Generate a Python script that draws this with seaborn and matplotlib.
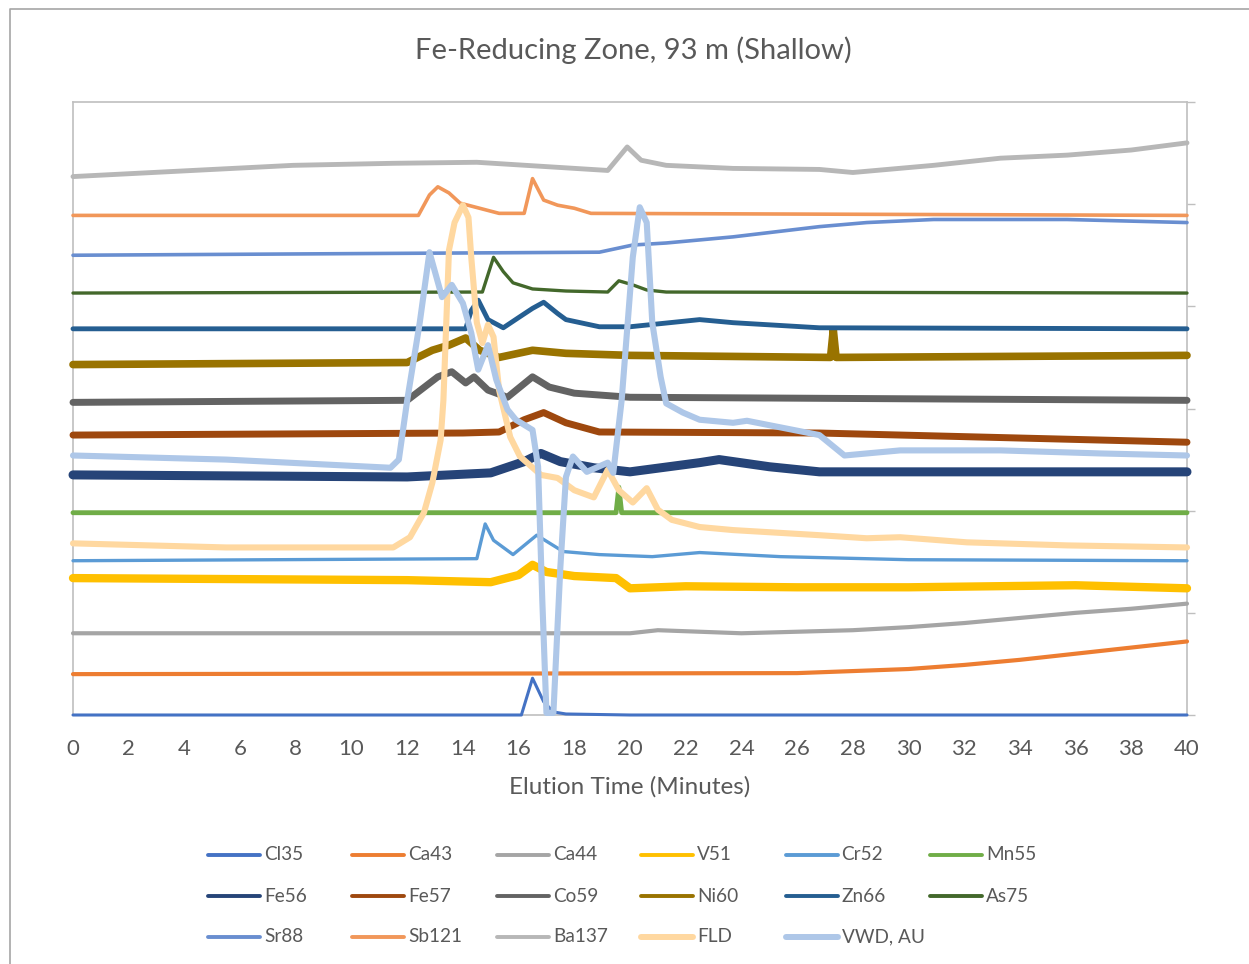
import matplotlib
matplotlib.use("Agg")
import matplotlib.pyplot as plt
from matplotlib.lines import Line2D
import seaborn as sns

# ---------------------------------------------------------------------------
# Stacked chromatogram traces (offset intensity units) vs. elution time (min)
# ---------------------------------------------------------------------------
cl35_t = [0, 16.1, 16.5, 16.9, 17.25, 17.7, 20, 40]
cl35_v = [0.00, 0.00, 0.36, 0.13, 0.03, 0.01, 0.00, 0.00]

ca43_t = [0, 26, 28, 30, 32, 34, 36, 38, 40]
ca43_v = [0.40, 0.41, 0.43, 0.45, 0.49, 0.54, 0.60, 0.66, 0.72]

ca44_t = [0, 20, 21, 24, 28, 30, 32, 34, 36, 38, 40]
ca44_v = [0.80, 0.80, 0.83, 0.80, 0.83, 0.86, 0.90, 0.95, 1.00, 1.04, 1.09]

v51_t = [0, 12, 15, 16, 16.5, 17, 18, 19.5, 20, 22, 26, 30, 36, 40]
v51_v = [1.34, 1.32, 1.30, 1.37, 1.47, 1.40, 1.36, 1.34, 1.24, 1.26, 1.25, 1.25, 1.27, 1.24]

cr52_t = [0, 14.5, 14.8, 15.1, 15.8, 16.65, 17.6, 18.9, 20.8, 22.5, 25.4, 30, 40]
cr52_v = [1.51, 1.53, 1.87, 1.71, 1.57, 1.76, 1.60, 1.57, 1.55, 1.59, 1.55, 1.52, 1.51]

mn55_t = [0, 19.5, 19.6, 19.7, 40]
mn55_v = [1.98, 1.98, 2.23, 1.98, 1.98]

fe56_t = [0, 12, 15, 16.2, 16.8, 17.5, 18.7, 20, 22.5, 23.2, 25, 26.8, 40]
fe56_v = [2.35, 2.33, 2.37, 2.48, 2.56, 2.48, 2.42, 2.38, 2.47, 2.50, 2.43, 2.38, 2.38]

fe57_t = [0, 14, 15.3, 16.2, 16.9, 17.7, 18.9, 26.8, 40]
fe57_v = [2.74, 2.76, 2.77, 2.89, 2.96, 2.86, 2.77, 2.76, 2.67]

co59_t = [0, 12, 13.1, 13.6, 14.1, 14.4, 14.9, 15.6, 16.5, 17.1, 18, 20, 40]
co59_v = [3.06, 3.08, 3.31, 3.36, 3.25, 3.31, 3.18, 3.11, 3.31, 3.21, 3.15, 3.11, 3.08]

ni60_t = [0, 12, 12.9, 13.5, 14.1, 14.6, 15.3, 16.5, 17.7, 20, 27.2, 27.3, 27.4, 40]
ni60_v = [3.43, 3.45, 3.57, 3.62, 3.69, 3.57, 3.50, 3.57, 3.54, 3.52, 3.50, 3.77, 3.50, 3.52]

zn66_t = [0, 14.1, 14.3, 14.55, 14.9, 15.45, 16.0, 16.5, 16.9, 17.4, 17.7, 18.9, 20, 22.5, 23.7, 26.8, 40]
zn66_v = [3.78, 3.78, 3.96, 4.06, 3.87, 3.79, 3.89, 3.98, 4.04, 3.93, 3.87, 3.80, 3.80, 3.87, 3.84, 3.79, 3.78]

as75_t = [0, 14.7, 15.1, 15.45, 15.8, 16.5, 17.7, 19.2, 19.6, 20.1, 20.6, 21.3, 40]
as75_v = [4.13, 4.14, 4.48, 4.34, 4.23, 4.17, 4.15, 4.14, 4.25, 4.21, 4.16, 4.14, 4.13]

sr88_t = [0, 18.9, 20.1, 21.3, 23.7, 26.8, 28.5, 30.9, 35.7, 40]
sr88_v = [4.50, 4.53, 4.60, 4.62, 4.68, 4.78, 4.82, 4.85, 4.85, 4.82]

sb121_t = [0, 12.4, 12.8, 13.1, 13.5, 13.9, 14.6, 15.3, 16.2, 16.5, 16.9, 17.4, 18.0, 18.6, 40]
sb121_v = [4.89, 4.89, 5.09, 5.17, 5.11, 5.01, 4.96, 4.91, 4.91, 5.25, 5.04, 4.99, 4.96, 4.91, 4.89]

ba137_t = [0, 4.3, 7.9, 11.5, 14.5, 19.2, 19.9, 20.4, 21.3, 23.7, 26.8, 28, 30.9, 33.3, 35.7, 38, 40]
ba137_v = [5.27, 5.33, 5.38, 5.40, 5.41, 5.33, 5.56, 5.43, 5.38, 5.35, 5.34, 5.31, 5.38, 5.45, 5.48, 5.53, 5.60]

fld_t = [0, 5.5, 11.5, 12.1, 12.6, 12.9, 13.2, 13.3, 13.5, 13.7, 14.0, 14.2, 14.3, 14.5, 14.7,
         14.9, 15.1, 15.3, 15.7, 16.05, 16.8, 17.4, 18.0, 18.7, 19.2, 19.6, 20.1, 20.6, 21.0,
         21.5, 22.5, 23.7, 26.8, 28.5, 29.7, 32.1, 35.7, 40]
fld_v = [1.68, 1.64, 1.64, 1.74, 1.98, 2.27, 2.69, 3.08, 4.55, 4.82, 4.99, 4.87, 4.48, 3.84, 3.64,
         3.82, 3.70, 3.18, 2.72, 2.53, 2.35, 2.32, 2.20, 2.13, 2.40, 2.20, 2.08, 2.22, 2.01,
         1.91, 1.84, 1.81, 1.76, 1.73, 1.74, 1.69, 1.66, 1.64]

vwd_t = [0, 5.5, 11.4, 11.7, 12.0, 12.45, 12.8, 13.25, 13.6, 14.0, 14.3, 14.55, 14.9, 15.2, 15.6,
         15.9, 16.5, 16.7, 16.85, 17.0, 17.25, 17.5, 17.7, 17.95, 18.45, 19.2, 19.4, 19.7, 20.1,
         20.35, 20.6, 20.8, 21.1, 21.3, 21.9, 22.5, 23.7, 24.2, 26.8, 27.7, 29.7, 33.3, 36.9, 40]
vwd_v = [2.54, 2.50, 2.42, 2.50, 3.08, 3.84, 4.53, 4.09, 4.21, 4.03, 3.74, 3.38, 3.62, 3.28, 2.99,
         2.89, 2.79, 2.43, 1.13, 0.02, 0.02, 1.45, 2.33, 2.53, 2.38, 2.47, 2.37, 3.08, 4.48,
         4.97, 4.82, 3.84, 3.31, 3.05, 2.96, 2.89, 2.86, 2.88, 2.74, 2.54, 2.59, 2.59, 2.56, 2.54]

series_names = ["Cl35", "Ca43", "Ca44", "V51", "Cr52", "Mn55",
                "Fe56", "Fe57", "Co59", "Ni60", "Zn66", "As75",
                "Sr88", "Sb121", "Ba137", "FLD", "VWD, AU"]
series_times = [cl35_t, ca43_t, ca44_t, v51_t, cr52_t, mn55_t,
                fe56_t, fe57_t, co59_t, ni60_t, zn66_t, as75_t,
                sr88_t, sb121_t, ba137_t, fld_t, vwd_t]
series_values = [cl35_v, ca43_v, ca44_v, v51_v, cr52_v, mn55_v,
                 fe56_v, fe57_v, co59_v, ni60_v, zn66_v, as75_v,
                 sr88_v, sb121_v, ba137_v, fld_v, vwd_v]
x_ticks = list(range(0, 41, 2))

# Styling -------------------------------------------------------------------
colors = ["#4472C4", "#ED7D31", "#A5A5A5", "#FFC000", "#5B9BD5", "#70AD47",
          "#264478", "#9E480E", "#636363", "#997300", "#255E91", "#43682B",
          "#698ED0", "#F1975A", "#B7B7B7", "#FFD8A0", "#AEC7E8"]
# thicker strokes for the noisier detector channels
widths = [2.2, 3.0, 3.0, 6.0, 2.4, 3.5,
          6.5, 5.0, 5.0, 5.5, 3.5, 2.4,
          2.6, 2.6, 3.5, 4.4, 4.4]
legend_widths = [2.8] * 15 + [4.3, 4.3]

TEXT = "#595959"
GRID = "#BFBFBF"
W, H = 1249, 964

sns.set_theme(style="white")
plt.rcParams["font.family"] = ["Lato", "DejaVu Sans"]

fig = plt.figure(figsize=(W / 100, H / 100), dpi=100)
ax = fig.add_axes([73 / W, 1 - 715 / H, (1187 - 73) / W, (715 - 102) / H])

# traces sit above the plot-area border, so the Cl35 baseline covers the bottom edge
for name, t, v, c, lw in zip(series_names, series_times, series_values, colors, widths):
    sns.lineplot(x=t, y=v, ax=ax, color=c, linewidth=lw, estimator=None,
                 sort=False, legend=False, clip_on=False, zorder=3)

ax.set_xlim(0, 40)
ax.set_ylim(0, 6)
ax.set_xticks(x_ticks)
ax.set_xticklabels([str(t) for t in x_ticks], color=TEXT, fontsize=16)
ax.tick_params(axis="x", length=0, pad=17)
ax.yaxis.tick_right()
ax.set_yticks(range(7))
ax.set_yticklabels([])
ax.tick_params(axis="y", right=True, length=6, width=1, color=GRID, direction="out")
for s in ax.spines.values():
    s.set_color(GRID)
    s.set_linewidth(1.2)
    s.set_visible(True)

ax.set_xlabel("Elution Time (Minutes)", color=TEXT, fontsize=17.5)
ax.xaxis.set_label_coords(0.5, -(787 - 715) / (715 - 102))
ax.xaxis.label.set_verticalalignment("center")

fig.text(633 / W, 1 - 50 / H, "Fe-Reducing Zone, 93 m (Shallow)",
         ha="center", va="center", color=TEXT, fontsize=21)

# chart-area frame
fig.add_artist(Line2D([10 / W, 10 / W, 1.0], [0.0, 1 - 9 / H, 1 - 9 / H],
                      transform=fig.transFigure, color="#A6A6A6", linewidth=1.2))

# legend: 6 evenly spaced columns, 3 rows
for i, (name, c, lw) in enumerate(zip(series_names, colors, legend_widths)):
    col, row = i % 6, i // 6
    x0 = 208 + col * 144.4
    y0 = 855 + row * 41
    fig.add_artist(Line2D([x0 / W, (x0 + 52) / W], [1 - y0 / H, 1 - y0 / H],
                          transform=fig.transFigure, color=c, linewidth=lw,
                          solid_capstyle="round"))
    fig.text((x0 + 56) / W, 1 - y0 / H, name, ha="left", va="center",
             color=TEXT, fontsize=13.7)

fig.savefig("out.png", dpi=100, facecolor="white")
